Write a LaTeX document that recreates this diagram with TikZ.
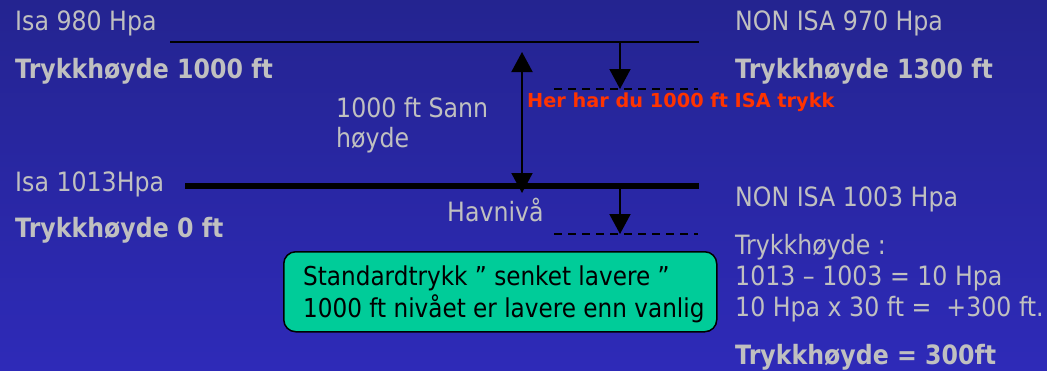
\documentclass[tikz,border=0pt]{standalone}
\usepackage{fontspec}
\setmainfont{DejaVu Sans}[FakeStretch=0.89]
\newfontfamily\redfont{DejaVu Sans}
\usetikzlibrary{arrows.meta}
\definecolor{bgtop}{RGB}{36,36,144}
\definecolor{bgbot}{RGB}{46,42,184}
\definecolor{txtgray}{RGB}{192,192,192}
\definecolor{redtxt}{RGB}{255,51,0}
\definecolor{boxgreen}{RGB}{0,204,153}
\begin{document}
\begin{tikzpicture}[x=1pt,y=-1pt,
  lbl/.style={anchor=base west,inner sep=0pt,text=txtgray,font=\fontsize{26.6}{31}\selectfont},
  blbl/.style={lbl,font=\fontsize{26.6}{31}\selectfont\bfseries},
  redlbl/.style={anchor=base west,inner sep=0pt,text=redtxt,font=\redfont\fontsize{19.3}{23}\selectfont\bfseries},
  boxtxt/.style={anchor=base west,inner sep=0pt,text=black,font=\fontsize{26}{31}\selectfont},
  level/.style={draw=black,line width=2pt},
  thicklevel/.style={draw=black,line width=6pt},
  dashlevel/.style={draw=black,line width=1.5pt,dash pattern=on 8pt off 6pt},
  arr/.style={draw=black,line width=2pt,-{Triangle[width=21pt,length=20pt]}},
  darr/.style={draw=black,line width=2pt,{Triangle[width=21pt,length=20pt]}-{Triangle[width=21pt,length=20pt]}},
  notebox/.style={draw=black,line width=1.5pt,fill=boxgreen,rounded corners=12pt,minimum width=433pt,minimum height=80pt,inner sep=0pt}
]
\useasboundingbox (0,0) rectangle (1047,370);
\shade[top color=bgtop,bottom color=bgbot] (0,0) rectangle (1047,370);

% level lines
\coordinate (t1) at (170,42);
\coordinate (t2) at (699,42);
\coordinate (b1) at (185,186);
\coordinate (b2) at (699,186);
\coordinate (d1a) at (554,89);
\coordinate (d1b) at (698,89);
\coordinate (d2a) at (554,234);
\coordinate (d2b) at (698,234);
\draw[level] (t1) -- (t2);
\draw[thicklevel] (b1) -- (b2);
\draw[dashlevel] (d1a) -- (d1b);
\draw[dashlevel] (d2a) -- (d2b);

% arrows
\coordinate (da) at (522,52);
\coordinate (db) at (522,193);
\draw[darr] (da) -- (db);
\coordinate (a1s) at (620,42);
\coordinate (a1e) at (620,89);
\draw[arr] (a1s) -- (a1e);
\coordinate (a2s) at (620,186);
\coordinate (a2e) at (620,234);
\draw[arr] (a2s) -- (a2e);

% left texts
\node[lbl] (isa980) at (15,30) {Isa 980 Hpa};
\node[blbl] (th1000) at (15,78) {Trykkhøyde 1000 ft};
\node[lbl] (isa1013) at (15,191) {Isa 1013Hpa};
\node[blbl] (th0) at (15,237) {Trykkhøyde 0 ft};

% middle texts
\node[lbl] (sann) at (336,117) {1000 ft Sann};
\node[lbl] (hoyde) at (336,147) {høyde};
\node[lbl] (havniva) at (447,221) {Havnivå};
\node[redlbl] (her) at (527,107) {Her har du 1000 ft ISA trykk};

% right texts
\node[lbl] (non970) at (735,30) {NON ISA 970 Hpa};
\node[blbl] (th1300) at (735,78) {Trykkhøyde 1300 ft};
\node[lbl] (non1003) at (735,206) {NON ISA 1003 Hpa};
\node[lbl] (thcol) at (735,254) {Trykkhøyde :};
\node[lbl] (calc1) at (735,285) {1013 – 1003 = 10 Hpa};
\node[lbl] (calc2) at (735,316) {10 Hpa x 30 ft = \ +300 ft.};
\node[blbl] (th300) at (735,364) {Trykkhøyde = 300ft};

% green box
\node[notebox,anchor=north west] (box) at (283,251) {};
\node[boxtxt] (box1) at (303,285) {Standardtrykk ” senket lavere ”};
\node[boxtxt] (box2) at (303,317) {1000 ft nivået er lavere enn vanlig};
\end{tikzpicture}
\end{document}
